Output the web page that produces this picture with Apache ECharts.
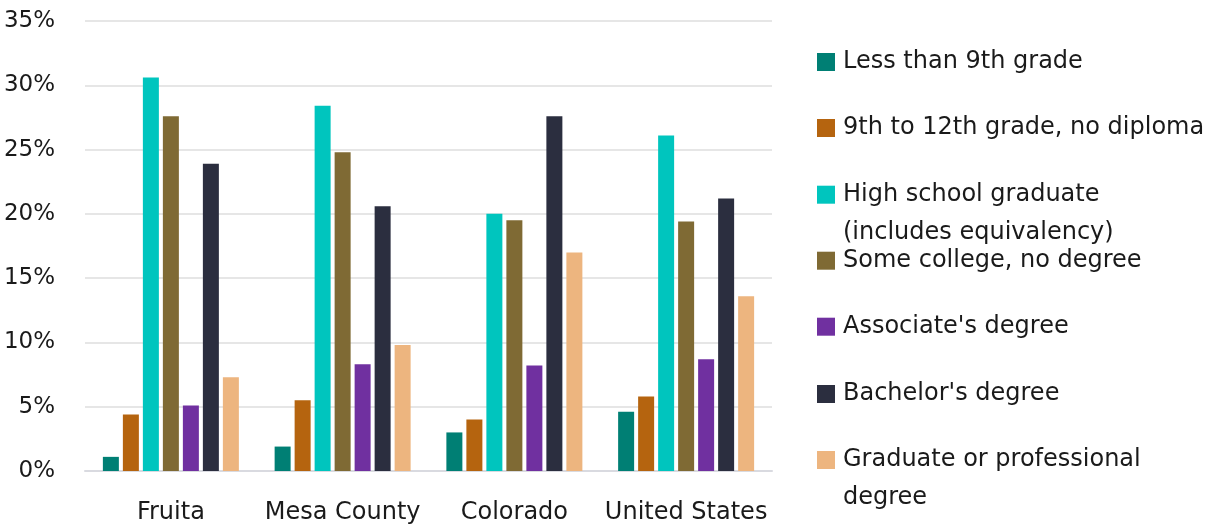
<!DOCTYPE html>
<html>
<head>
<meta charset="utf-8">
<script src="https://cdn.jsdelivr.net/npm/echarts@6/dist/echarts.min.js"></script>
<style>html,body{margin:0;padding:0;background:#fff;}#c{width:1219px;height:529px;}</style>
</head>
<body>
<div id="c"></div>
<script>
const categories = ['Fruita', 'Mesa County', 'Colorado', 'United States'];
const seriesNames = ['Less than 9th grade', '9th to 12th grade, no diploma', 'High school graduate (includes equivalency)', 'Some college, no degree', "Associate's degree", "Bachelor's degree", 'Graduate or professional degree'];
const legendLabels = ['Less than 9th grade', '9th to 12th grade, no diploma', 'High school graduate\n(includes equivalency)', 'Some college, no degree', "Associate's degree", "Bachelor's degree", 'Graduate or professional\ndegree'];
const lessThan9th = [1.1, 1.9, 3.0, 4.6];
const grade9to12 = [4.4, 5.5, 4.0, 5.8];
const highSchool = [30.6, 28.4, 20.0, 26.1];
const someCollege = [27.6, 24.8, 19.5, 19.4];
const associate = [5.1, 8.3, 8.2, 8.7];
const bachelor = [23.9, 20.6, 27.6, 21.2];
const graduate = [7.3, 9.8, 17.0, 13.6];
const yTicks = [0, 5, 10, 15, 20, 25, 30, 35];

const values = [lessThan9th, grade9to12, highSchool, someCollege, associate, bachelor, graduate];
const colors = ['#007F74', '#B5640F', '#00C5BE', '#7F6A34', '#7030A0', '#2B2E3F', '#EDB57F'];
const FONT = 'DejaVu Sans';
const iconCenters = [62, 128, 194.7, 260.7, 326.7, 394, 460];

const legends = seriesNames.map((n, i) => {
  const multi = legendLabels[i].indexOf('\n') >= 0;
  const boxH = multi ? 114 : 38;
  return {
    data: [n],
    orient: 'vertical',
    left: 817,
    top: iconCenters[i] - boxH / 2,
    padding: 0,
    itemWidth: 18,
    itemHeight: 18,
    itemGap: 0,
    icon: 'rect',
    formatter: () => (multi ? '\n' : '') + legendLabels[i],
    textStyle: {
      fontFamily: FONT, fontSize: 24, color: '#1a1a1a', lineHeight: 38,
      padding: [0, 0, 0, 3]
    }
  };
});

const chart = echarts.init(document.getElementById('c'));
chart.setOption({
  animation: false,
  color: colors,
  legend: legends,
  grid: { left: 85, right: 447, top: 21, bottom: 58, containLabel: false },
  xAxis: {
    type: 'category',
    data: categories,
    axisTick: { show: false },
    axisLine: { lineStyle: { color: '#D9DAE0', width: 2 } },
    axisLabel: { interval: 0, fontFamily: FONT, fontSize: 24, color: '#1a1a1a', margin: 30 }
  },
  yAxis: {
    type: 'value',
    min: yTicks[0],
    max: yTicks[yTicks.length - 1],
    interval: 5,
    axisLine: { show: false },
    axisTick: { show: false },
    splitLine: { lineStyle: { color: '#E6E6E6', width: 2 } },
    axisLabel: { formatter: '{value}%', fontFamily: FONT, fontSize: 23, color: '#1a1a1a', margin: 30 }
  },
  series: seriesNames.map((n, i) => ({
    name: n,
    type: 'bar',
    data: values[i],
    barWidth: 16,
    barGap: '25%',
    itemStyle: { color: colors[i] }
  }))
});
</script>
</body>
</html>
